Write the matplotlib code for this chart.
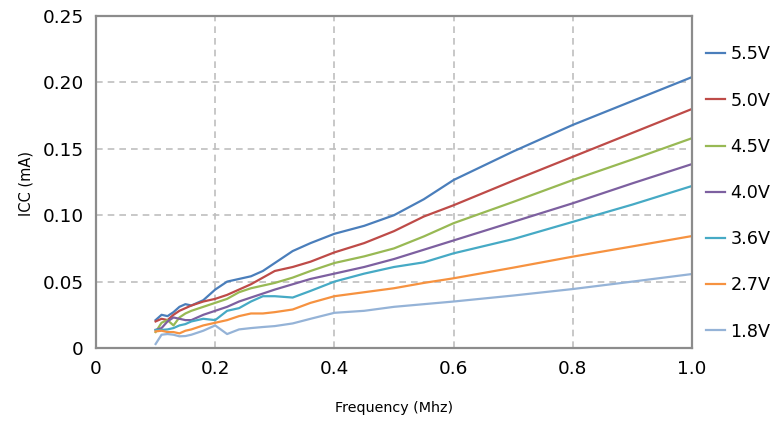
import matplotlib
matplotlib.use("Agg")
import matplotlib.pyplot as plt

# ============================================================
# DATA
# ============================================================

freq = [0.10, 0.11, 0.12, 0.13, 0.14, 0.15, 0.16, 0.18, 0.20, 0.22, 0.24, 0.26,
        0.28, 0.30, 0.33, 0.36, 0.40, 0.45, 0.50, 0.55, 0.60, 0.70, 0.80, 0.90, 1.00]

icc_55 = [0.021, 0.025, 0.024, 0.027, 0.031, 0.033, 0.032, 0.036, 0.044, 0.050, 0.052, 0.054,
          0.058, 0.064, 0.073, 0.079, 0.086, 0.092, 0.100, 0.112, 0.1265, 0.148, 0.168, 0.186, 0.204]
icc_50 = [0.020, 0.022, 0.021, 0.025, 0.028, 0.030, 0.032, 0.035, 0.037, 0.040, 0.044, 0.048,
          0.053, 0.058, 0.061, 0.065, 0.072, 0.079, 0.088, 0.099, 0.1075, 0.126, 0.144, 0.162, 0.180]
icc_45 = [0.012, 0.019, 0.021, 0.017, 0.023, 0.026, 0.028, 0.031, 0.034, 0.037, 0.042, 0.045,
          0.047, 0.049, 0.053, 0.058, 0.064, 0.069, 0.075, 0.084, 0.094, 0.110, 0.1265, 0.142, 0.158]
icc_40 = [0.0136, 0.015, 0.020, 0.023, 0.022, 0.021, 0.021, 0.025, 0.028, 0.031, 0.035, 0.038,
          0.041, 0.044, 0.048, 0.052, 0.056, 0.061, 0.067, 0.074, 0.081, 0.095, 0.109, 0.124, 0.1385]
icc_36 = [0.0136, 0.0136, 0.014, 0.015, 0.017, 0.018, 0.020, 0.022, 0.021, 0.028, 0.030, 0.035,
          0.039, 0.039, 0.038, 0.043, 0.050, 0.056, 0.061, 0.0645, 0.0713, 0.082, 0.095, 0.108, 0.122]
icc_27 = [0.0125, 0.013, 0.012, 0.012, 0.011, 0.013, 0.014, 0.017, 0.019, 0.021, 0.024, 0.026,
          0.026, 0.027, 0.029, 0.034, 0.039, 0.042, 0.045, 0.049, 0.0525, 0.0605, 0.0688, 0.0765, 0.0843]
icc_18 = [0.003, 0.010, 0.0105, 0.010, 0.0088, 0.009, 0.010, 0.013, 0.017, 0.0105, 0.014, 0.015,
          0.0158, 0.0165, 0.0185, 0.022, 0.0265, 0.028, 0.031, 0.033, 0.035, 0.0395, 0.0444, 0.050, 0.0557]

series = [icc_55, icc_50, icc_45, icc_40, icc_36, icc_27, icc_18]
labels = ["5.5V", "5.0V", "4.5V", "4.0V", "3.6V", "2.7V", "1.8V"]
colors = ["#4A7EBB", "#BE4B48", "#98B954", "#7D60A0", "#46AAC5", "#F69240", "#95B3D7"]

xticks = [0, 0.2, 0.4, 0.6, 0.8, 1.0]
xtick_labels = ["0", "0.2", "0.4", "0.6", "0.8", "1.0"]
yticks = [0, 0.05, 0.10, 0.15, 0.20, 0.25]
ytick_labels = ["0", "0.05", "0.10", "0.15", "0.20", "0.25"]

# ============================================================
# PLOT
# ============================================================

plt.rcParams["font.family"] = ["DejaVu Sans"]

fig = plt.figure(figsize=(7.79, 4.21), dpi=100)
ax = fig.add_axes([96 / 779, 73 / 421, 596 / 779, 332 / 421])

for vals, lab, col in zip(series, labels, colors):
    ax.plot(freq, vals, color=col, lw=1.6, label=lab, solid_joinstyle="round")

ax.set_xlim(0, 1.0)
ax.set_ylim(0, 0.25)
ax.set_xticks(xticks)
ax.set_xticklabels(xtick_labels, fontsize=13.3)
ax.set_yticks(yticks)
ax.set_yticklabels(ytick_labels, fontsize=13.3)
ax.tick_params(length=0, pad=9)

ax.grid(True, color="#bfbfbf", lw=1.2, linestyle=(0, (4, 3)))
ax.set_axisbelow(True)
for sp in ax.spines.values():
    sp.set_color("#8c8c8c")
    sp.set_linewidth(1.6)

fig.text(26 / 779, 1 - 184 / 421, "ICC (mA)", rotation=90, ha="center", va="center", fontsize=10.5)
fig.text(394 / 779, 1 - 408 / 421, "Frequency (Mhz)", ha="center", va="center", fontsize=10.3)

fig.legend(loc="center left", bbox_to_anchor=(706 / 779, 1 - 193 / 421), frameon=False,
           fontsize=12.7, borderaxespad=0, borderpad=0, handlelength=1.08,
           handletextpad=0.3, labelspacing=1.6)

fig.savefig("out.png", dpi=100)
